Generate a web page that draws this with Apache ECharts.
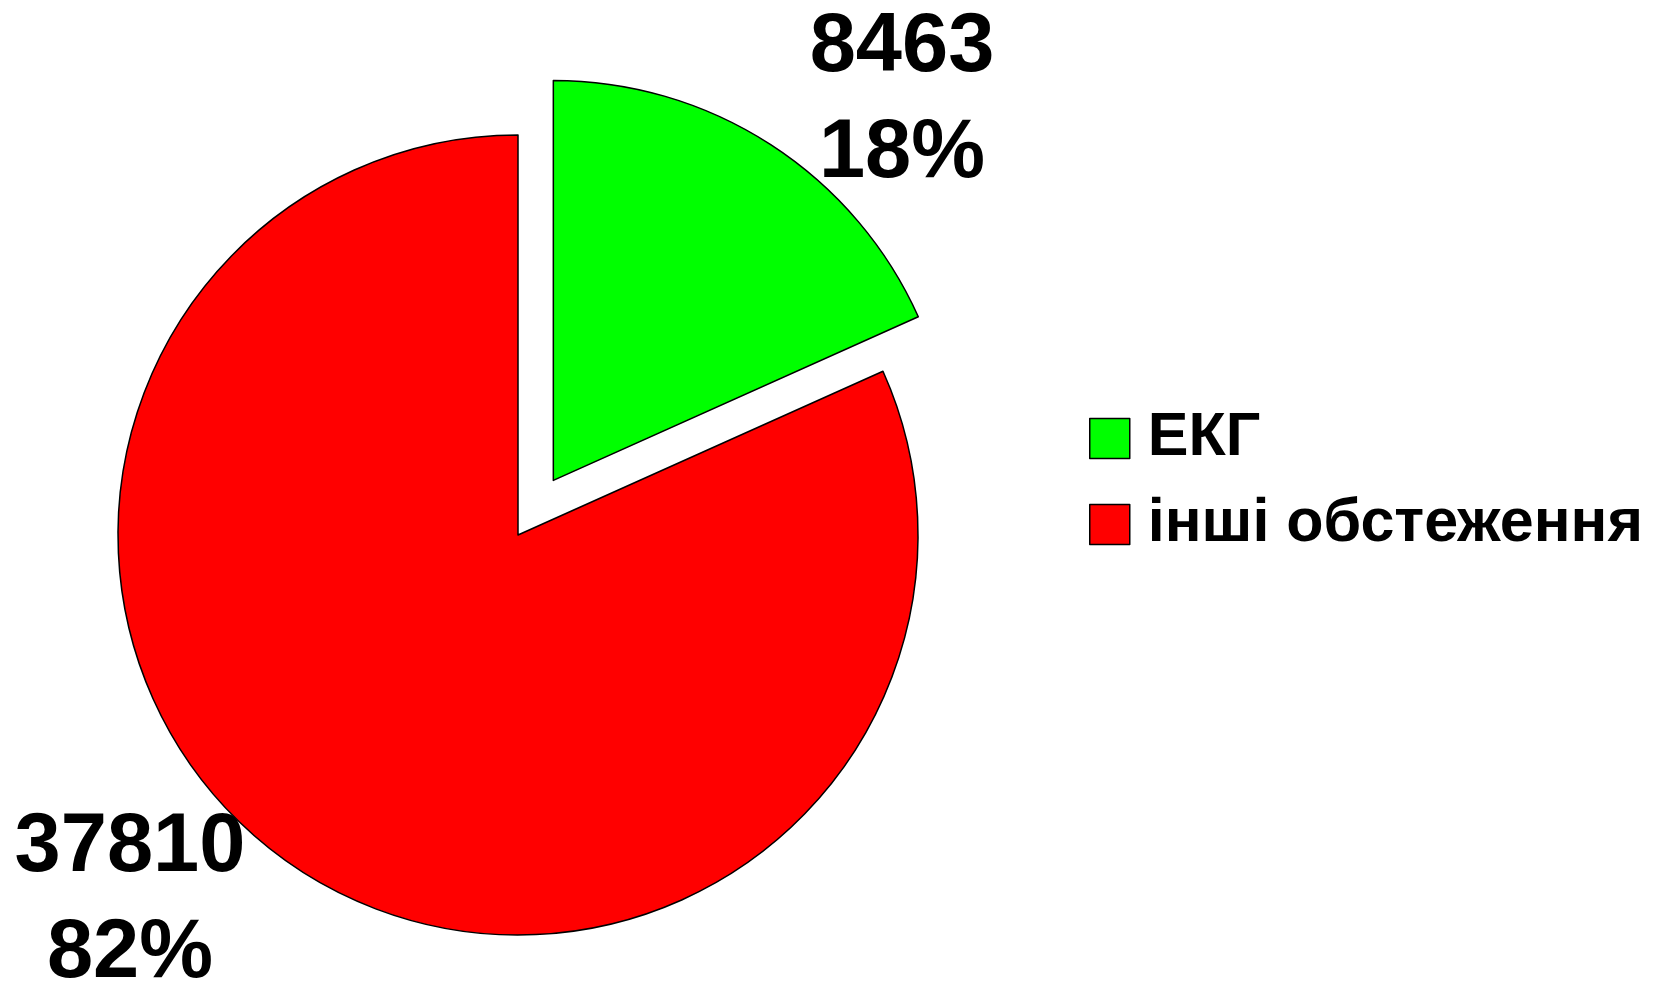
<!DOCTYPE html>
<html>
<head>
<meta charset="utf-8">
<script src="https://cdn.jsdelivr.net/npm/echarts@6/dist/echarts.min.js"></script>
<style>
  html, body { margin: 0; padding: 0; background: #fff; }
  #main { width: 1666px; height: 984px; }
</style>
</head>
<body>
<div id="main"></div>
<script>
const categories = ['ЕКГ', 'інші обстеження']
const values = [8463, 37810]
const colors = ['#00ff00', '#ff0000']

// where each label sits (label centre, px)
const labelPos = [[902, 101], [130, 901]]

const pieCenter = [518, 535]
const pieRadius = 400

const chart = echarts.init(document.getElementById('main'))
chart.setOption({
  animation: false,
  backgroundColor: '#fff',
  legend: {
    orient: 'vertical',
    left: 1089,
    top: 408,
    padding: 0,
    itemWidth: 40,
    itemHeight: 40,
    itemGap: 25,
    icon: 'rect',
    itemStyle: { borderColor: '#000', borderWidth: 1.5 },
    textStyle: {
      fontFamily: 'Liberation Sans',
      fontWeight: 'bold',
      fontSize: 61,
      color: '#000',
      padding: [0, 0, 0, 13]
    },
    data: categories
  },
  series: [
    {
      // slices, ЕКГ pulled out
      type: 'pie',
      center: pieCenter,
      radius: pieRadius,
      startAngle: 90,
      clockwise: true,
      selectedMode: 'single',
      selectedOffset: 65,
      emphasis: { disabled: true },
      itemStyle: { borderColor: '#000', borderWidth: 1.5 },
      label: { show: false },
      labelLine: { show: false },
      data: categories.map((name, i) => ({
        name: name,
        value: values[i],
        selected: i === 0,
        itemStyle: { color: colors[i] }
      }))
    },
    {
      // labels only
      type: 'pie',
      center: pieCenter,
      radius: pieRadius,
      startAngle: 90,
      clockwise: true,
      silent: true,
      percentPrecision: 0,
      emphasis: { disabled: true },
      itemStyle: { color: 'rgba(0,0,0,0)', borderWidth: 0 },
      label: {
        show: true,
        position: 'inside',
        formatter: '{c}\n{d}%',
        fontFamily: 'Liberation Sans',
        fontWeight: 'bold',
        fontSize: 83,
        lineHeight: 106,
        color: '#000'
      },
      labelLine: { show: false },
      labelLayout: function (params) {
        const p = labelPos[params.dataIndex]
        return { x: p[0], y: p[1], align: 'center', verticalAlign: 'middle' }
      },
      data: categories.map((name, i) => ({ name: name, value: values[i] }))
    }
  ]
})
</script>
</body>
</html>
